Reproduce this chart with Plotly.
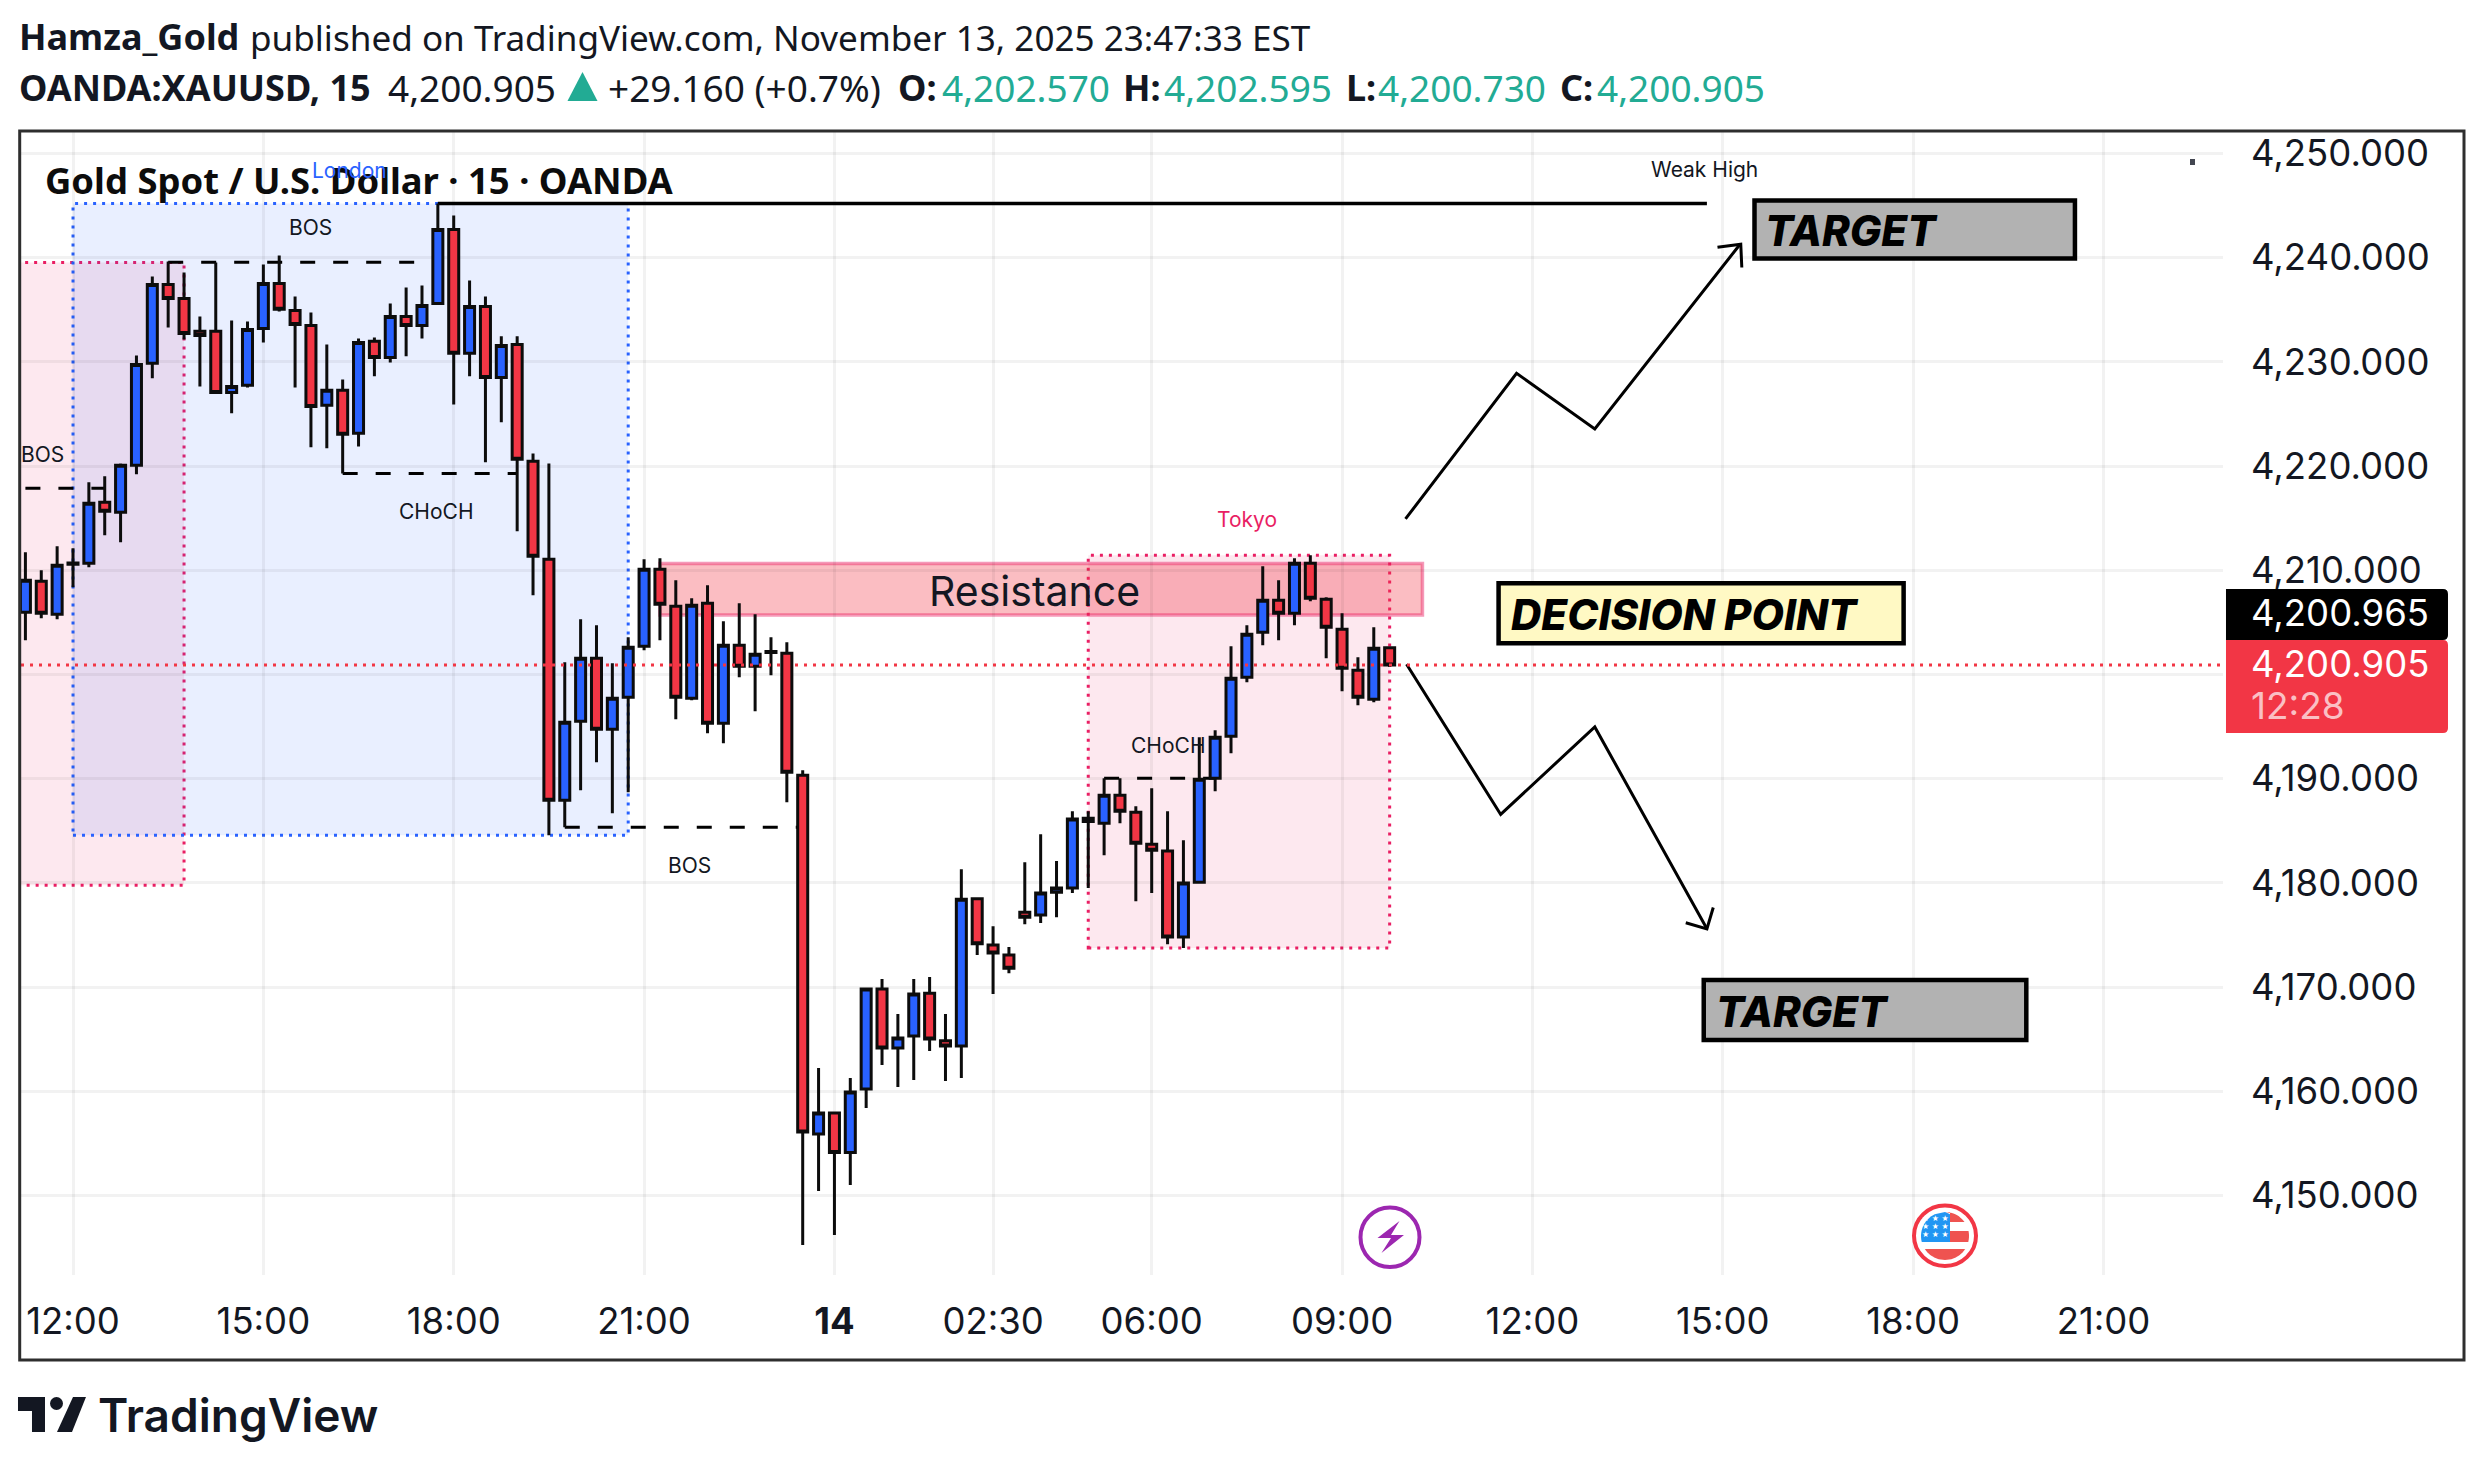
import numpy as np
import pandas as pd
import plotly.graph_objects as go

W, H = 2484, 1470
PAGE_MARGIN = 8  # default body margin of the page plotly writes

# 15 minute bars, market shut 03:00-04:00 on the 14th
bar_times = list(pd.date_range("2025-11-13 11:15", "2025-11-14 02:45", freq="15min")) + \
    list(pd.date_range("2025-11-14 04:00", "2025-11-14 09:45", freq="15min"))

opens = [4205.97, 4208.95, 4205.78, 4210.58, 4210.67, 4216.52, 4215.56, 4220.07, 4229.86, 4237.43,
         4236.09, 4232.93, 4232.93, 4227.07, 4227.75, 4233.21, 4237.53, 4234.94, 4233.50, 4225.83,
         4227.27, 4223.14, 4231.97, 4230.43, 4234.36, 4233.50, 4235.61, 4242.71, 4230.82, 4235.32,
         4228.51, 4231.68, 4220.46, 4211.05, 4187.94, 4195.52, 4201.56, 4194.75, 4197.82, 4202.71,
         4210.10, 4206.55, 4197.72, 4206.83, 4195.32, 4202.81, 4200.79, 4202.10, 4202.04, 4190.34,
         4155.90, 4157.91, 4154.13, 4160.22, 4169.81, 4164.15, 4165.30, 4169.42, 4164.86, 4164.34,
         4178.49, 4174.03, 4173.07, 4177.19, 4176.91, 4179.10, 4179.50, 4185.90, 4185.73, 4188.42,
         4186.79, 4183.72, 4183.05, 4174.80, 4180.07, 4190.05, 4194.08, 4199.74, 4204.05, 4207.12,
         4205.88, 4210.67, 4207.22, 4204.34, 4200.41, 4197.63, 4202.570]
highs = [4211.73, 4210.00, 4212.30, 4212.11, 4218.44, 4219.02, 4220.26, 4230.62, 4238.20, 4239.64,
         4238.59, 4234.36, 4239.54, 4233.98, 4233.88, 4239.35, 4240.22, 4236.28, 4234.75, 4231.68,
         4228.32, 4232.25, 4232.35, 4235.61, 4237.15, 4237.34, 4245.20, 4244.05, 4237.82, 4236.28,
         4232.45, 4232.45, 4221.22, 4220.26, 4201.17, 4205.30, 4204.72, 4201.08, 4203.57, 4211.05,
         4211.15, 4209.04, 4207.31, 4208.56, 4205.11, 4206.83, 4205.78, 4203.57, 4203.09, 4190.82,
         4162.23, 4157.91, 4161.27, 4169.90, 4170.77, 4167.41, 4170.77, 4170.96, 4167.41, 4181.32,
         4178.63, 4175.85, 4173.84, 4181.99, 4184.68, 4182.09, 4186.88, 4186.88, 4190.05, 4190.05,
         4187.36, 4189.09, 4186.88, 4184.10, 4193.98, 4194.65, 4202.71, 4204.72, 4210.38, 4209.04,
         4211.15, 4211.44, 4207.41, 4205.88, 4201.65, 4204.53, 4202.595]
lows = [4203.29, 4205.40, 4205.30, 4208.37, 4210.29, 4213.36, 4212.69, 4219.21, 4228.42, 4233.31,
        4232.16, 4227.65, 4227.07, 4225.06, 4227.55, 4231.87, 4234.84, 4227.55, 4221.80, 4221.70,
        4219.30, 4221.89, 4228.61, 4229.95, 4230.53, 4232.25, 4235.61, 4225.92, 4228.61, 4220.36,
        4224.20, 4213.74, 4207.60, 4184.58, 4185.35, 4188.90, 4191.58, 4186.69, 4188.71, 4202.33,
        4203.29, 4195.71, 4197.53, 4194.36, 4193.41, 4199.74, 4196.47, 4199.93, 4187.75, 4145.25,
        4150.43, 4146.21, 4151.01, 4158.39, 4162.52, 4160.41, 4161.08, 4163.86, 4160.98, 4161.27,
        4173.07, 4169.33, 4171.34, 4176.04, 4176.14, 4176.71, 4179.02, 4179.50, 4182.66, 4185.73,
        4178.25, 4179.02, 4174.12, 4173.74, 4180.07, 4188.80, 4192.45, 4199.26, 4202.81, 4203.29,
        4204.72, 4207.03, 4201.56, 4198.39, 4197.05, 4197.34, 4200.730]
closes = [4209.04, 4205.88, 4210.48, 4210.70, 4216.43, 4215.66, 4220.07, 4229.76, 4237.43, 4236.09,
          4232.73, 4232.54, 4227.07, 4227.65, 4233.12, 4237.53, 4235.04, 4233.60, 4225.73, 4227.27,
          4223.05, 4231.87, 4230.43, 4234.36, 4233.50, 4235.42, 4242.71, 4230.82, 4235.32, 4228.51,
          4231.58, 4220.65, 4211.34, 4187.94, 4195.42, 4201.56, 4194.75, 4197.72, 4202.61, 4210.10,
          4206.74, 4197.82, 4206.64, 4195.32, 4202.81, 4200.79, 4201.94, 4202.20, 4190.62, 4156.09,
          4157.91, 4154.13, 4159.93, 4169.81, 4164.15, 4165.11, 4169.33, 4165.01, 4164.34, 4178.44,
          4174.17, 4173.26, 4171.82, 4176.71, 4179.02, 4179.50, 4186.12, 4186.20, 4188.42, 4186.88,
          4183.81, 4183.14, 4174.80, 4179.98, 4189.95, 4193.98, 4199.64, 4203.86, 4207.12, 4205.88,
          4210.67, 4207.31, 4204.53, 4200.60, 4197.82, 4202.52, 4200.905]

last_price = 4200.905

price_ticks = [4150, 4160, 4170, 4180, 4190, 4200, 4210, 4220, 4230, 4240, 4250]
time_ticks = ["2025-11-13 12:00", "2025-11-13 15:00", "2025-11-13 18:00", "2025-11-13 21:00",
              "2025-11-14 00:00", "2025-11-14 02:30", "2025-11-14 06:00", "2025-11-14 09:00",
              "2025-11-14 12:00", "2025-11-14 15:00", "2025-11-14 18:00", "2025-11-14 21:00"]
time_labels = ["12:00", "15:00", "18:00", "21:00", "<b>14</b>", "02:30", "06:00", "09:00",
               "12:00", "15:00", "18:00", "21:00"]

# drawings on the chart: (time, price)
up_path_t = ["2025-11-14 10:00", "2025-11-14 11:45", "2025-11-14 12:59", "2025-11-14 15:16"]
up_path_p = [4214.93, 4228.91, 4223.56, 4241.24]
up_head_t = ["2025-11-14 14:55", "2025-11-14 15:17", "2025-11-14 15:18"]
up_head_p = [4241.00, 4241.30, 4239.06]
down_path_t = ["2025-11-14 10:01", "2025-11-14 11:30", "2025-11-14 12:59", "2025-11-14 14:45"]
down_path_p = [4200.98, 4186.57, 4194.97, 4175.59]
down_head_t = ["2025-11-14 14:25", "2025-11-14 14:45", "2025-11-14 14:51"]
down_head_p = [4176.17, 4175.59, 4177.64]

sessions = [
    # start, end, top, bottom, fill, border
    ("2025-11-13 09:00", "2025-11-13 13:45", 4239.54, 4179.78, "rgba(233,30,99,0.1)", "#E91E63"),
    ("2025-11-13 12:00", "2025-11-13 20:45", 4245.20, 4184.58, "rgba(41,98,255,0.1)", "#2962FF"),
    ("2025-11-14 05:00", "2025-11-14 09:45", 4211.44, 4173.74, "rgba(233,30,99,0.1)", "#E91E63"),
]
dashed_levels = [
    ("2025-11-13 11:15", "2025-11-13 12:30", 4217.87),
    ("2025-11-13 13:30", "2025-11-13 17:45", 4239.57),
    ("2025-11-13 16:15", "2025-11-13 19:00", 4219.30),
    ("2025-11-13 19:45", "2025-11-13 23:30", 4185.35),
    ("2025-11-14 05:15", "2025-11-14 07:00", 4190.05),
]
small_labels = [
    ("BOS", "2025-11-13 11:31", 4221.13, "#131722"),
    ("BOS", "2025-11-13 15:45", 4242.93, "#131722"),
    ("CHoCH", "2025-11-13 17:43", 4215.60, "#131722"),
    ("BOS", "2025-11-13 21:43", 4181.65, "#131722"),
    ("CHoCH", "2025-11-14 06:15", 4193.15, "#131722"),
    ("London", "2025-11-13 16:21", 4248.37, "#2962FF"),
    ("Tokyo", "2025-11-14 07:30", 4214.84, "#E91E63"),
    ("Weak High", "2025-11-14 14:43", 4248.47, "#131722"),
]
boxes = [
    # text, start, end, top, bottom, fill, text time
    ("TARGET", "2025-11-14 15:30", "2025-11-14 20:33", 4245.49, 4239.93, "#B2B2B2", "2025-11-14 15:38"),
    ("DECISION POINT", "2025-11-14 11:28", "2025-11-14 17:51", 4208.75, 4203.00, "#FFF9C4", "2025-11-14 11:38"),
    ("TARGET", "2025-11-14 14:42", "2025-11-14 19:47", 4170.67, 4164.92, "#B2B2B2", "2025-11-14 14:52"),
]

INK = "#131722"
TEAL = "#22AB94"
BLUE = "#2962FF"
RED = "#F23645"
GRID = "rgba(0,0,0,0.05)"
SANS = "Inter"
HEAD = "Noto Sans"
FIG_W = W - 2 * PAGE_MARGIN
FIG_H = H - 2 * PAGE_MARGIN


def px_x(x):
    return (x - PAGE_MARGIN) / FIG_W


def px_y(y):
    return 1 - (y - PAGE_MARGIN) / FIG_H


def px_path(points, close=True):
    """SVG path in paper units from pixel points"""
    parts = [("M" if i == 0 else "L") + f"{px_x(x):.5f},{px_y(y):.5f}" for i, (x, y) in enumerate(points)]
    return " ".join(parts) + (" Z" if close else "")


def rounded_path(x0, y0, x1, y1, r):
    p = f"M{px_x(x0):.5f},{px_y(y0):.5f} L{px_x(x1 - r):.5f},{px_y(y0):.5f} "
    p += f"Q{px_x(x1):.5f},{px_y(y0):.5f} {px_x(x1):.5f},{px_y(y0 + r):.5f} "
    p += f"L{px_x(x1):.5f},{px_y(y1 - r):.5f} "
    p += f"Q{px_x(x1):.5f},{px_y(y1):.5f} {px_x(x1 - r):.5f},{px_y(y1):.5f} "
    p += f"L{px_x(x0):.5f},{px_y(y1):.5f} Z"
    return p


def clipped_disc(cx, cy, r, x0, x1, y0, y1):
    """Part of a disc inside a rectangle, for the flag stripes"""
    left, right = [], []
    for y in np.linspace(y0, y1, 14):
        half = np.sqrt(max(r ** 2 - (y - cy) ** 2, 0))
        left.append((max(x0, cx - half), y))
        right.append((min(x1, cx + half), y))
    return px_path(left + right[::-1])


fig = go.Figure()

fig.add_trace(go.Candlestick(
    x=bar_times, open=opens, high=highs, low=lows, close=closes,
    increasing=dict(fillcolor=BLUE, line=dict(color="#0C0C0C", width=3)),
    decreasing=dict(fillcolor=RED, line=dict(color="#0C0C0C", width=3)),
    whiskerwidth=0, showlegend=False, hoverinfo="skip",
))

for path_t, path_p in [(up_path_t, up_path_p), (up_head_t, up_head_p),
                       (down_path_t, down_path_p), (down_head_t, down_head_p)]:
    fig.add_trace(go.Scatter(x=path_t, y=path_p, mode="lines", showlegend=False, hoverinfo="skip",
                             line=dict(color="#000000", width=3)))

shapes = []
for start, end, top, bottom, fill, border in sessions:
    shapes.append(dict(type="rect", xref="x", yref="y", x0=start, x1=end, y0=bottom, y1=top, layer="below",
                       fillcolor=fill, line=dict(color=border, width=3, dash="3px,6px")))

shapes.append(dict(type="rect", xref="x", yref="y", x0="2025-11-13 21:15", x1="2025-11-14 10:16",
                   y0=4205.72, y1=4210.65, layer="below", fillcolor="rgba(242,54,69,0.33)",
                   line=dict(color="rgba(233,30,99,0.45)", width=3.5)))

for start, end, level in dashed_levels:
    shapes.append(dict(type="line", xref="x", yref="y", x0=start, x1=end, y0=level, y1=level, layer="below",
                       line=dict(color="#000000", width=3, dash="15px,18px")))

shapes.append(dict(type="line", xref="x", yref="y", x0="2025-11-13 17:45", x1="2025-11-14 14:45",
                   y0=4245.20, y1=4245.20, layer="below", line=dict(color="#000000", width=3.5)))

shapes.append(dict(type="line", xref="paper", yref="y", x0=px_x(21), x1=px_x(2223), y0=last_price, y1=last_price,
                   layer="above", line=dict(color=RED, width=3, dash="3px,6px")))

for text, start, end, top, bottom, fill, text_t in boxes:
    shapes.append(dict(type="rect", xref="x", yref="y", x0=start, x1=end, y0=bottom, y1=top, layer="above",
                       fillcolor=fill, opacity=0.999, line=dict(color="#000000", width=4.5)))

# chart frame
shapes.append(dict(type="rect", xref="paper", yref="paper", x0=px_x(19.7), x1=px_x(2464), y0=px_y(1360), y1=px_y(131),
                   layer="above", line=dict(color="#2E2E2E", width=3)))

# last price tags
shapes.append(dict(type="path", xref="paper", yref="paper", layer="above", fillcolor="#000000", line=dict(width=0),
                   path=rounded_path(2226, 589, 2448, 640, 5)))
shapes.append(dict(type="path", xref="paper", yref="paper", layer="above", fillcolor=RED, line=dict(width=0),
                   path=rounded_path(2226, 640, 2448, 733, 5)))

# triangle in the header
shapes.append(dict(type="path", xref="paper", yref="paper", layer="above", fillcolor=TEAL, line=dict(width=0),
                   path=px_path([(582.5, 72), (597.5, 101), (567.5, 101)])))

# small scale dot
shapes.append(dict(type="rect", xref="paper", yref="paper", x0=px_x(2190), x1=px_x(2195), y0=px_y(165), y1=px_y(159),
                   layer="above", fillcolor="#434651", line=dict(width=0)))

# event icons
shapes.append(dict(type="circle", xref="paper", yref="paper", x0=px_x(1360.5), x1=px_x(1419.5), y0=px_y(1267),
                   y1=px_y(1207.5), layer="above", fillcolor="#FFFFFF", line=dict(color="#9C27B0", width=4)))
shapes.append(dict(type="path", xref="paper", yref="paper", layer="above", fillcolor="#9C27B0", line=dict(width=0),
                   path=px_path([(1399.5, 1221), (1377.5, 1238), (1391, 1238), (1381.5, 1253), (1404, 1235), (1391, 1235)])))

cx, cy, r_in = 1945, 1236, 24
shapes.append(dict(type="circle", xref="paper", yref="paper", x0=px_x(1914), x1=px_x(1976), y0=px_y(1266),
                   y1=px_y(1205.5), layer="above", fillcolor="#FFFFFF", line=dict(color=RED, width=4)))
for x0, x1, y0, y1, col in [(1950, 1970, 1212, 1222, "#EF5350"), (1950, 1970, 1231, 1242, "#EF5350"),
                            (1915, 1975, 1249, 1260, "#EF5350"), (1915, 1950, 1212, 1242, "#2196F3")]:
    shapes.append(dict(type="path", xref="paper", yref="paper", layer="above", fillcolor=col, line=dict(width=0),
                       path=clipped_disc(cx, cy, r_in, x0, x1, y0, y1)))

# TradingView mark
logo_col = "#131722"
shapes.append(dict(type="path", xref="paper", yref="paper", layer="above", fillcolor=logo_col, line=dict(width=0),
                   path=px_path([(18, 1397), (45, 1397), (45, 1432), (32, 1432), (32, 1411), (18, 1411)])))
shapes.append(dict(type="circle", xref="paper", yref="paper", x0=px_x(50), x1=px_x(63), y0=px_y(1410), y1=px_y(1397),
                   layer="above", fillcolor=logo_col, line=dict(width=0)))
shapes.append(dict(type="path", xref="paper", yref="paper", layer="above", fillcolor=logo_col, line=dict(width=0),
                   path=px_path([(73, 1397), (86, 1397), (72, 1432), (57, 1432)])))

annotations = []


def paper_text(text, x, y, size, color=INK, family=HEAD, anchor="left", weight=None):
    annotations.append(dict(xref="paper", yref="paper", x=px_x(x), y=px_y(y), text=text, showarrow=False,
                            xanchor=anchor, yanchor="middle", borderpad=0,
                            font=dict(family=family, size=size, color=color, weight=weight)))


# header, laid out piece by piece as the widths differ from the fallback font
paper_text("<b>Hamza_Gold</b>", 18, 37, 36)
paper_text("published on TradingView.com, November 13, 2025 23:47:33 EST", 249, 37, 35.1)
paper_text("<b>OANDA:XAUUSD, 15</b>", 18, 88, 36)
paper_text("4,200.905", 387, 88, 37)
paper_text("+29.160 (+0.7%)", 607, 88, 37)
for label, label_x, value, value_x in [("O:", 897, "4,202.570", 941), ("H:", 1122, "4,202.595", 1163),
                                       ("L:", 1345, "4,200.730", 1377), ("C:", 1559, "4,200.905", 1596)]:
    paper_text(f"<b>{label}</b>", label_x, 88, 36)
    paper_text(value, value_x, 88, 37, color=TEAL)
paper_text("<b>Gold Spot / U.S. Dollar · 15 · OANDA</b>", 44, 180, 36.4, color="#0C0C0C")
paper_text("TradingView", 97, 1415, 46, family=SANS, weight=600)

paper_text("4,200.965", 2250, 613, 36.5, color="#FFFFFF", family=SANS)
paper_text("4,200.905", 2250, 664, 36.5, color="#FFFFFF", family=SANS)
paper_text("12:28", 2250, 706, 37, color="rgba(255,255,255,0.7)", family=SANS)

for row_y in [1218, 1226, 1234]:
    paper_text("★ ★ ★", 1935, row_y, 8, color="#FFFFFF", family="DejaVu Sans", anchor="center")

for text, when, price, color in small_labels:
    annotations.append(dict(x=when, y=price, text=text, showarrow=False, xanchor="center", yanchor="middle",
                            font=dict(family=SANS, size=21, color=color)))

annotations.append(dict(x="2025-11-14 04:09", y=4208.0, text="Resistance", showarrow=False, xanchor="center",
                        yanchor="middle", font=dict(family=SANS, size=41, color="#131722")))

for text, start, end, top, bottom, fill, text_t in boxes:
    annotations.append(dict(x=text_t, y=(top + bottom) / 2 - 0.1, text=text, showarrow=False, xanchor="left",
                            yanchor="middle",
                            font=dict(family=SANS, size=42, color="#000000", weight=800, style="italic")))

fig.update_layout(
    width=FIG_W, height=FIG_H, autosize=False,
    margin=dict(l=0, r=0, t=0, b=0),
    paper_bgcolor="#FFFFFF", plot_bgcolor="#FFFFFF",
    boxgap=0.21, boxgroupgap=0.2,
    shapes=shapes, annotations=annotations,
    xaxis=dict(
        type="date",
        domain=[px_x(21), px_x(2223)],
        range=["2025-11-13 11:10:50", "2025-11-14 22:53:00"],
        rangebreaks=[dict(bounds=["2025-11-14 03:00", "2025-11-14 04:00"])],
        rangeslider=dict(visible=False),
        tickmode="array", tickvals=time_ticks, ticktext=time_labels,
        tickfont=dict(family=SANS, size=36.5, color="#131722"),
        showgrid=True, gridcolor=GRID, gridwidth=2.5,
        showline=False, zeroline=False, ticks="", ticklabelstandoff=21,
        tickangle=0,
    ),
    yaxis=dict(
        domain=[px_y(1275), px_y(131.5)],
        range=[4142.37, 4252.11],
        side="right",
        tickmode="array", tickvals=price_ticks, tickformat=",.3f",
        tickfont=dict(family=SANS, size=36.5, color="#131722"),
        showgrid=True, gridcolor=GRID, gridwidth=2.5,
        showline=False, zeroline=False, ticks="", ticklabelstandoff=27,
    ),
    hovermode=False,
)

fig.write_html("out.html")
